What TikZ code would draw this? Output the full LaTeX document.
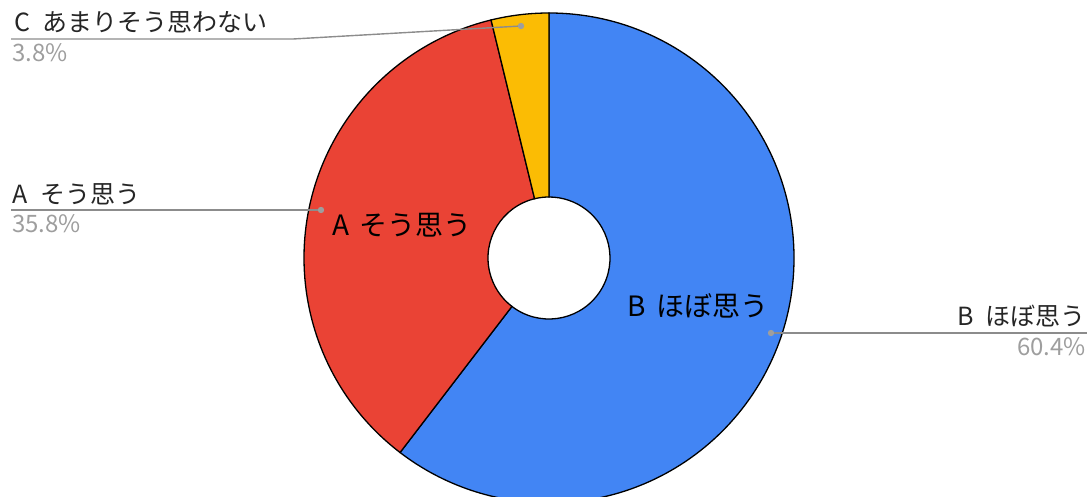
\documentclass[tikz,border=0pt]{standalone}
\usepackage{fontspec}
\setmainfont{Noto Sans CJK JP}
\usepackage{tikz}
\usetikzlibrary{calc}
\definecolor{bleu}{HTML}{4285F4}
\definecolor{rouge}{HTML}{EA4335}
\definecolor{jaune}{HTML}{FBBC04}
\definecolor{trait}{HTML}{8C8C8C}
\definecolor{pourcentage}{HTML}{9E9E9E}
\tikzstyle{secteur} = [
    draw = black,
    line width = 1.3pt,
]
\tikzstyle{legende} = [
    inner sep = 0pt,
    text = black!85,
    font = \fontsize{25}{25}\selectfont,
]
\tikzstyle{pourcent} = [
    inner sep = 0pt,
    text = pourcentage,
    font = \fontsize{24}{24}\selectfont,
]
\tikzstyle{interne} = [
    inner sep = 0pt,
    text = black,
    font = \fontsize{28}{28}\selectfont,
]
\tikzstyle{repere} = [
    draw = trait,
    line width = 1.4pt,
]

\begin{document}
\begin{tikzpicture} [x = 1pt, y = 1pt]
    \useasboundingbox (0, 0) rectangle (1091, -497);
    \clip (0, 0) rectangle (1091, -497);

    \coordinate (Centre) at (549, -258);

    % anneau
    \draw[secteur, fill = bleu] ($(Centre) + (90:245pt)$) arc (90:-127.44:245pt) -- ($(Centre) + (-127.44:61pt)$) arc (-127.44:90:61pt) -- cycle;
    \draw[secteur, fill = rouge] ($(Centre) + (-127.44:245pt)$) arc (-127.44:-256.32:245pt) -- ($(Centre) + (-256.32:61pt)$) arc (-256.32:-127.44:61pt) -- cycle;
    \draw[secteur, fill = jaune] ($(Centre) + (-256.32:245pt)$) arc (-256.32:-270:245pt) -- ($(Centre) + (-270:61pt)$) arc (-270:-256.32:61pt) -- cycle;

    \node (InterneA) [interne, anchor = base west] at (332, -235) {A \hspace{4pt}そう思う};
    \node (InterneB) [interne, anchor = base west] at (627, -316) {B \hspace{5pt}ほぼ思う};

    % legendes
    \node (LegendeC) [legende, anchor = base west] at (14, -32) {C \hspace{7pt}あまりそう思わない};
    \node (PourcentC) [pourcent, anchor = base west] at (12, -62) {3.8\%};
    \node (LegendeA) [legende, anchor = base west] at (12, -203) {A \hspace{7pt}そう思う};
    \node (PourcentA) [pourcent, anchor = base west] at (12, -232) {35.8\%};
    \node (LegendeB) [legende, anchor = base east] at (1086, -325) {B \hspace{6pt}ほぼ思う};
    \node (PourcentB) [pourcent, anchor = base east] at (1086, -355) {60.4\%};

    \coordinate (PointC) at (521, -26);
    \coordinate (CoudeC) at (293, -39);
    \coordinate (FinC) at (11, -39);
    \coordinate (PointA) at (321, -210);
    \coordinate (FinA) at (11, -210);
    \coordinate (PointB) at (771, -333);
    \coordinate (FinB) at (1087, -333);

    \draw[repere] (PointC) -- (CoudeC) -- (FinC);
    \draw[repere] (PointA) -- (FinA);
    \draw[repere] (PointB) -- (FinB);
    \fill[pourcentage] (PointC) circle (3.2pt);
    \fill[pourcentage] (PointA) circle (3.2pt);
    \fill[pourcentage] (PointB) circle (3.2pt);
\end{tikzpicture}
\end{document}
